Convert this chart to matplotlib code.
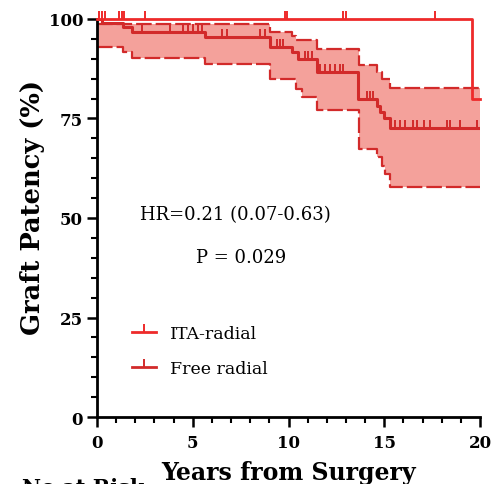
import numpy as np
import matplotlib
matplotlib.use("Agg")
import matplotlib.pyplot as plt
from matplotlib.lines import Line2D

# ---- data ----
ita_t = [0, 19.57, 20]
ita_s = [100, 80, 80]
ita_cens = [0.1, 0.25, 0.4, 1.15, 1.28, 1.42, 2.5, 9.8, 9.94, 12.86, 13.0, 17.65]

free_t = [0, 0.25, 1.37, 1.81, 5.64, 9.03, 10.17, 10.5, 11.47, 13.65, 14.6, 14.8, 15.0, 15.3, 20]
free_s = [100, 98.9, 97.9, 96.6, 95.4, 92.9, 91.6, 89.9, 86.6, 80.0, 78.0, 76.5, 75.0, 72.5, 72.5]
free_cens = [2.33, 3.81, 4.5, 4.77, 5.03, 5.29, 5.47, 6.51, 6.77, 8.51, 8.77,
             9.38, 9.56, 9.73, 10.86, 11.03, 11.21, 11.64, 11.9, 12.17, 12.43, 12.69, 12.86,
             14.08, 14.26, 14.43, 15.56, 15.82, 16.08, 16.52, 16.7, 17.05, 17.39,
             18.26, 18.43, 18.96, 19.83]

up_t = [0, 9.03, 10.17, 10.4, 11.47, 13.7, 14.6, 14.87, 15.3, 20]
up_s = [98.7, 96.6, 95.8, 94.6, 92.5, 88.3, 86.6, 84.9, 82.6, 82.6]
lo_t = [0, 1.37, 1.81, 5.64, 9.03, 10.4, 10.7, 11.47, 13.7, 14.6, 14.87, 15.04, 15.3, 20]
lo_s = [92.9, 91.6, 90.1, 88.7, 84.9, 82.4, 80.3, 77.2, 67.3, 65.3, 63.1, 61.0, 57.7, 57.7]

labels = ["ITA-radial", "Free radial"]
hr_text = "HR=0.21 (0.07-0.63)"
p_text = "P = 0.029"

# ---- style ----
ita_col = "#ee2a2a"
free_col = "#d22a2a"
fill_col = "#f4a19b"
serif = ["DejaVu Serif"]

fig = plt.figure(figsize=(5.0, 4.85), dpi=100)
ax = fig.add_axes([0.194, 0.138, 0.766, 0.821])


def step_val(tt, ss, x):
    tt = np.asarray(tt); ss = np.asarray(ss)
    idx = np.searchsorted(tt, x, side="right") - 1
    idx = np.clip(idx, 0, len(ss) - 1)
    return ss[idx]

grid = np.unique(np.concatenate([up_t, lo_t]))
ax.fill_between(grid, step_val(lo_t, lo_s, grid), step_val(up_t, up_s, grid),
                step="post", color=fill_col, lw=0, zorder=1)
ax.step(up_t, up_s, where="post", color=free_col, lw=1.6, dashes=(7, 1.8), zorder=2)
ax.step(lo_t, lo_s, where="post", color=free_col, lw=1.6, dashes=(7, 1.8), zorder=2)

tick_marker = [(0, 0), (0, 1)]
ax.step(free_t, free_s, where="post", color=free_col, lw=2.2, zorder=3)
ax.plot(free_cens, step_val(free_t, free_s, np.array(free_cens)), ls="none",
        marker=tick_marker, ms=12, mew=1.4, mec=free_col, zorder=3)

ax.step(ita_t, ita_s, where="post", color=ita_col, lw=2.0, zorder=4, clip_on=False)
ax.plot(ita_cens, step_val(ita_t, ita_s, np.array(ita_cens)), ls="none",
        marker=tick_marker, ms=12, mew=1.4, mec=ita_col, zorder=4, clip_on=False)

ax.set_xlim(0, 20)
ax.set_ylim(0, 100)
ax.set_xticks([0, 5, 10, 15, 20])
ax.set_xticks(np.arange(0, 21, 1), minor=True)
ax.set_yticks([0, 25, 50, 75, 100])
ax.set_yticks(np.arange(0, 101, 5), minor=True)
for s in ["top", "right"]:
    ax.spines[s].set_visible(False)
for s in ["left", "bottom"]:
    ax.spines[s].set_linewidth(2.0)
ax.tick_params(which="major", length=7, width=1.8, direction="out", pad=3)
ax.tick_params(which="minor", length=4, width=1.5, direction="out")
ax.tick_params(axis="x", which="major", pad=5)
for lab in ax.get_xticklabels() + ax.get_yticklabels():
    lab.set_fontfamily(serif)
    lab.set_fontweight("bold")
    lab.set_fontsize(12)

ax.set_ylabel("Graft Patency (%)", family=serif, fontweight="bold", fontsize=18.5)
ax.yaxis.set_label_coords(-0.135, 0.53)
ax.set_xlabel("Years from Surgery", family=serif, fontweight="bold", fontsize=17, labelpad=7)

ax.text(7.2, 51, hr_text, family=serif, fontsize=13, ha="center", va="center")
ax.text(7.5, 40.2, p_text, family=serif, fontsize=13, ha="center", va="center")

handles = [Line2D([0], [0], color=ita_col, lw=2, marker=tick_marker, ms=12, mew=1.4, mec=ita_col),
           Line2D([0], [0], color=free_col, lw=2, marker=tick_marker, ms=12, mew=1.4, mec=free_col)]
ax.legend(handles, labels, loc="upper left", bbox_to_anchor=(0.05, 0.27), frameon=False,
          prop={"family": serif, "size": 12.5}, handlelength=1.4, handletextpad=0.8,
          labelspacing=1.05)

fig.text(0.045, 0.014, "No at Risk", family=serif, fontweight="bold", fontsize=15,
         ha="left", va="top")

fig.savefig("out.png", dpi=100)
